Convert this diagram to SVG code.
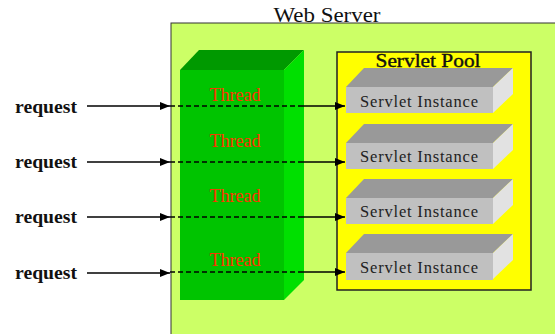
<svg xmlns="http://www.w3.org/2000/svg" width="555" height="334" viewBox="0 0 555 334">
<style>
.req{font-family:"Liberation Serif",serif;font-weight:bold;font-size:19px;fill:#111}
.thr{font-family:"Liberation Serif",serif;font-size:18px;fill:#FF3300}
.si{font-family:"Liberation Serif",serif;font-size:16.5px;fill:#222}
.line{stroke:#000;stroke-width:1.3;fill:none}
.dash{stroke:#000;stroke-width:1.3;fill:none;stroke-dasharray:5 3}
.front{fill:#C0C0C0}.top{fill:#999999}.side{fill:#E2E2E2}
</style>
<defs>
<marker id="ah" viewBox="0 0 10 8" refX="10" refY="4" markerWidth="10" markerHeight="8" markerUnits="userSpaceOnUse" orient="auto">
<path d="M0,0 L10,4 L0,8 z" fill="#000"/>
</marker>
</defs>
<rect width="555" height="334" fill="#fff"/>
<g id="web-server">
<rect x="171" y="23" width="400" height="330" fill="#CCFF66" stroke="#333" stroke-width="1"/>
<text x="327" y="22" text-anchor="middle" font-family="Liberation Serif,serif" font-size="20" fill="#111" textLength="107" lengthAdjust="spacingAndGlyphs">Web Server</text>
</g>
<g id="thread-block">
<polygon points="180,70 199,50 304,50 284,70" fill="#009900"/>
<polygon points="284,70 304,50 304,280 284,300" fill="#00E000"/>
<rect x="180" y="70" width="104" height="230" fill="#00C400"/>
<text class="thr" x="235" y="101" text-anchor="middle">Thread</text>
<text class="thr" x="235" y="147" text-anchor="middle">Thread</text>
<text class="thr" x="235" y="202" text-anchor="middle">Thread</text>
<text class="thr" x="235" y="266" text-anchor="middle">Thread</text>
</g>
<g id="servlet-pool">
<rect x="337" y="52" width="194" height="238" fill="#FFFF00" stroke="#222" stroke-width="1.5"/>
<text x="428" y="67" text-anchor="middle" font-family="Liberation Serif,serif" font-size="19" fill="#111" stroke="#111" stroke-width="0.4" textLength="105" lengthAdjust="spacingAndGlyphs">Servlet Pool</text>
</g>
<g id="instance-1">
<polygon class="top" points="346,87 364,68 513,68 493,87"/>
<polygon class="side" points="493,87 513,68 513,94 493,113"/>
<rect class="front" x="346" y="87" width="147" height="26"/>
<text class="si" x="419" y="107" text-anchor="middle" textLength="118" lengthAdjust="spacing">Servlet Instance</text>
</g>
<g id="instance-2">
<polygon class="top" points="346,143 364,124 513,124 493,143"/>
<polygon class="side" points="493,143 513,124 513,150 493,169"/>
<rect class="front" x="346" y="143" width="147" height="26"/>
<text class="si" x="419" y="162" text-anchor="middle" textLength="118" lengthAdjust="spacing">Servlet Instance</text>
</g>
<g id="instance-3">
<polygon class="top" points="346,198 364,179 513,179 493,198"/>
<polygon class="side" points="493,198 513,179 513,205 493,224"/>
<rect class="front" x="346" y="198" width="147" height="26"/>
<text class="si" x="419" y="217" text-anchor="middle" textLength="118" lengthAdjust="spacing">Servlet Instance</text>
</g>
<g id="instance-4">
<polygon class="top" points="346,253 364,234 513,234 493,253"/>
<polygon class="side" points="493,253 513,234 513,260 493,279"/>
<rect class="front" x="346" y="253" width="147" height="27"/>
<text class="si" x="419" y="273" text-anchor="middle" textLength="118" lengthAdjust="spacing">Servlet Instance</text>
</g>
<g id="requests">
<text class="req" x="15" y="113" textLength="62" lengthAdjust="spacingAndGlyphs">request</text>
<text class="req" x="15" y="168" textLength="62" lengthAdjust="spacingAndGlyphs">request</text>
<text class="req" x="15" y="223" textLength="62" lengthAdjust="spacingAndGlyphs">request</text>
<text class="req" x="15" y="279" textLength="62" lengthAdjust="spacingAndGlyphs">request</text>
</g>
<g id="connectors">
<line class="line" x1="87" y1="106" x2="170" y2="106" marker-end="url(#ah)"/>
<line class="line" x1="87" y1="162" x2="170" y2="162" marker-end="url(#ah)"/>
<line class="line" x1="87" y1="217" x2="170" y2="217" marker-end="url(#ah)"/>
<line class="line" x1="87" y1="273" x2="170" y2="273" marker-end="url(#ah)"/>
<line class="dash" x1="170" y1="106" x2="300" y2="106"/>
<line class="dash" x1="170" y1="162" x2="300" y2="162"/>
<line class="dash" x1="170" y1="217" x2="300" y2="217"/>
<line class="dash" x1="170" y1="272" x2="300" y2="272"/>
<line class="line" x1="300" y1="106" x2="345" y2="106" marker-end="url(#ah)"/>
<line class="line" x1="300" y1="162" x2="345" y2="162" marker-end="url(#ah)"/>
<line class="line" x1="300" y1="217" x2="345" y2="217" marker-end="url(#ah)"/>
<line class="line" x1="300" y1="272" x2="345" y2="272" marker-end="url(#ah)"/>
</g>
</svg>
